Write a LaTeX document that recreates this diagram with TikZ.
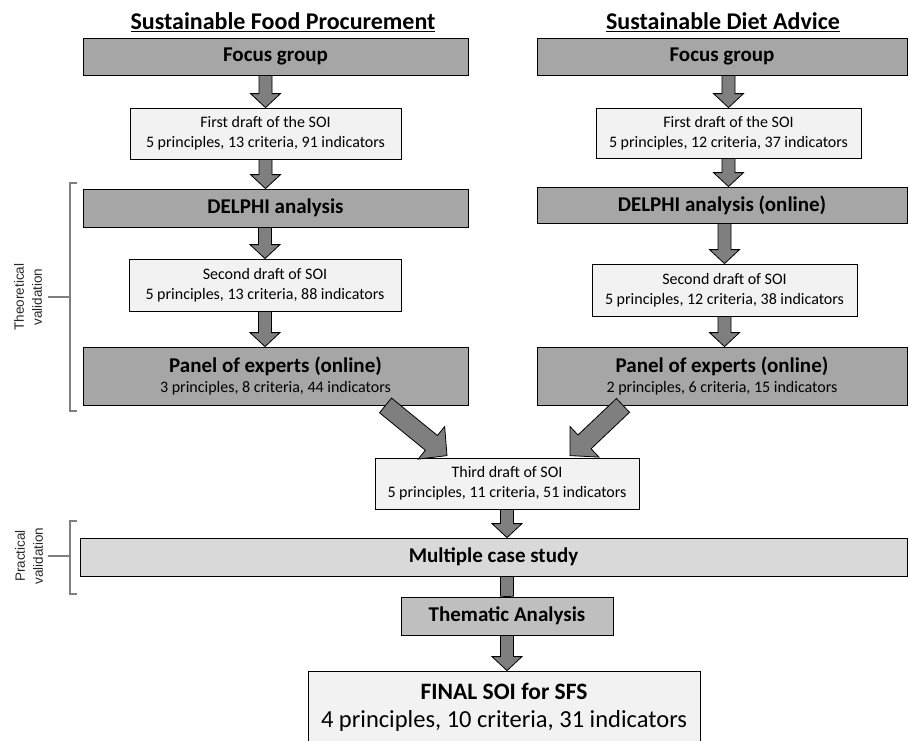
\documentclass[tikz,border=0pt]{standalone}
\usepackage{fontspec}
\setmainfont{Carlito}
\newfontfamily\sidefont{Liberation Sans}
\usetikzlibrary{calc}

\definecolor{boxdark}{HTML}{A6A6A6}
\definecolor{boxmid}{HTML}{BFBFBF}
\definecolor{boxpale}{HTML}{D9D9D9}
\definecolor{boxlight}{HTML}{F2F2F2}
\definecolor{arrowgray}{HTML}{7F7F7F}

\newcommand{\hdfont}{\fontsize{21}{24}\selectfont\bfseries}
\newcommand{\smfont}{\fontsize{16}{20}\selectfont\mdseries}

\tikzset{
	stage/.style={draw, line width=0.8pt, fill=boxdark, inner sep=0pt, align=center, font=\hdfont},
	draft/.style={draw, line width=0.8pt, fill=boxlight, inner sep=0pt, align=center, font=\smfont},
	header/.style={font=\fontsize{24}{28}\selectfont\bfseries},
	sidelabel/.style={font=\sidefont\fontsize{13.5}{18}\selectfont, align=center, text=black!85, rotate=90},
	bracket/.style={draw=arrowgray, line width=2.5pt},
	fatarrow/.style n args={3}{draw=black, fill=arrowgray, line width=0.8pt,
		to path={let \p1=(\tikztostart), \p2=(\tikztotarget),
			\n1={atan2(\y2-\y1,\x2-\x1)}, \n2={veclen(\x2-\x1,\y2-\y1)-#3} in
			-- ($(\p1)+(\n1+90:#1)$)
			-- ($(\p1)+(\n1:\n2)+(\n1+90:#1)$)
			-- ($(\p1)+(\n1:\n2)+(\n1+90:#2)$)
			-- (\p2)
			-- ($(\p1)+(\n1:\n2)+(\n1-90:#2)$)
			-- ($(\p1)+(\n1:\n2)+(\n1-90:#1)$)
			-- ($(\p1)+(\n1-90:#1)$) -- cycle}},
	downarrow/.style={fatarrow={6.5pt}{15pt}{14pt}},
	bigarrow/.style={fatarrow={9.5pt}{21pt}{20pt}}
}

\begin{document}
\begin{tikzpicture}[x=1pt, y=-1pt]
	\useasboundingbox (0,0) rectangle (908,740);
	% column headings
	\node[header] (sfp) at (283,22) {\underline{Sustainable Food Procurement}};
	\node[header] (sda) at (723,22) {\underline{Sustainable Diet Advice}};

	% Sustainable Food Procurement
	\node[stage, minimum width=385pt, minimum height=37pt] (fgL) at (275.5,56.5) {Focus group};
	\node[draft, minimum width=271pt, minimum height=51pt] (fdL) at (265.5,133.5) {First draft of the SOI\\5 principles, 13 criteria, 91 indicators};
	\node[stage, minimum width=385pt, minimum height=38pt] (dlL) at (275.5,208) {DELPHI analysis};
	\node[draft, minimum width=272pt, minimum height=52pt] (sdL) at (265,285) {Second draft of SOI\\5 principles, 13 criteria, 88 indicators};
	\node[stage, minimum width=385pt, minimum height=58pt] (pnL) at (275.5,376) {Panel of experts (online)\\[-4pt]{\smfont 3 principles, 8 criteria, 44 indicators}};

	% Sustainable Diet Advice
	\node[stage, minimum width=370pt, minimum height=37pt] (fgR) at (722,56.5) {Focus group};
	\node[draft, minimum width=265pt, minimum height=50pt] (fdR) at (728.5,133) {First draft of the SOI\\5 principles, 12 criteria, 37 indicators};
	\node[stage, minimum width=370pt, minimum height=36pt] (dlR) at (722,205) {DELPHI analysis (online)};
	\node[draft, minimum width=265pt, minimum height=52pt] (sdR) at (724.5,290) {Second draft of SOI\\5 principles, 12 criteria, 38 indicators};
	\node[stage, minimum width=370pt, minimum height=58pt] (pnR) at (722,376) {Panel of experts (online)\\[-4pt]{\smfont 2 principles, 6 criteria, 15 indicators}};

	% merged part
	\node[draft, minimum width=264pt, minimum height=51pt] (td) at (507,483.5) {Third draft of SOI\\5 principles, 11 criteria, 51 indicators};
	\node[stage, fill=boxpale, minimum width=827pt, minimum height=38pt] (mc) at (493.5,557) {Multiple case study};
	\node[stage, fill=boxmid, minimum width=212pt, minimum height=38pt] (th) at (507,616) {Thematic Analysis};
	\node[draft, minimum width=392pt, minimum height=72pt] (fin) at (504,707) {{\fontsize{23.5}{28}\selectfont\bfseries FINAL SOI for SFS}\\[8pt]{\fontsize{24.5}{28}\selectfont 4 principles, 10 criteria, 31 indicators}};

	% arrows
	\draw[downarrow] (fdL.north |- fgL.south) to (fdL.north);
	\draw[downarrow] (fdL.south) to (fdL.south |- dlL.north);
	\draw[downarrow] (sdL.north |- dlL.south) to (sdL.north);
	\draw[downarrow] (sdL.south) to (sdL.south |- pnL.north);
	\draw[downarrow] (fdR.north |- fgR.south) to (fdR.north);
	\draw[downarrow] (fdR.south) to (fdR.south |- dlR.north);
	\draw[downarrow] (sdR.north |- dlR.south) to (sdR.north);
	\draw[downarrow] (sdR.south) to (sdR.south |- pnR.north);
	\coordinate (sL) at ([xshift=110pt]pnL.south);
	\coordinate (tL) at ([xshift=-60pt, yshift=2pt]td.north);
	\coordinate (sR) at ([xshift=-99pt]pnR.south);
	\coordinate (tR) at ([xshift=63pt, yshift=2pt]td.north);
	\draw[bigarrow] (sL) to (tL);
	\draw[bigarrow] (sR) to (tR);
	\draw[downarrow] (td.south) to (td.south |- mc.north);
	\draw[fatarrow={6.5pt}{6.5pt}{0.5pt}] (th.north |- mc.south) to (th.north);
	\draw[downarrow] (th.south) to (fin.north -| th.south);

	% validation brackets
	\draw[bracket] (77,183) -- (70,183) -- (70,411) -- (77,411);
	\draw[bracket] (48,297) -- (70,297);
	\node[sidelabel] (tv) at (28,297) {Theoretical\\validation};
	\draw[bracket] (77,521) -- (70,521) -- (70,594) -- (77,594);
	\draw[bracket] (48,556) -- (70,556);
	\node[sidelabel] (pv) at (29,556) {Practical\\validation};
\end{tikzpicture}
\end{document}
